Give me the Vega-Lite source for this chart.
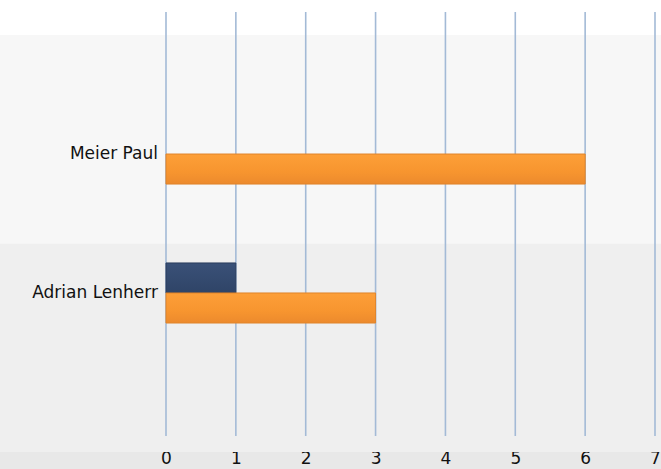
{
  "$schema": "https://vega.github.io/schema/vega-lite/v6.json",
  "width": 661,
  "height": 452,
  "padding": {"left": 0, "top": 0, "right": 0, "bottom": 17},
  "autosize": "none",
  "background": "#e8e8e8",
  "config": {"view": {"fill": "white", "stroke": null}},
  "datasets": {
    "bars": [
      {"name": "Meier Paul", "series": "A", "value": 0},
      {"name": "Meier Paul", "series": "B", "value": 6},
      {"name": "Adrian Lenherr", "series": "A", "value": 1},
      {"name": "Adrian Lenherr", "series": "B", "value": 3}
    ],
    "names": [
      {"name": "Meier Paul"},
      {"name": "Adrian Lenherr"}
    ],
    "ticks": [
      {"t": 0}, {"t": 1}, {"t": 2}, {"t": 3}, {"t": 4}, {"t": 5}, {"t": 6}, {"t": 7}
    ]
  },
  "layer": [
    {
      "data": {"name": "names"},
      "mark": {"type": "rect"},
      "encoding": {
        "y": {"field": "name", "type": "nominal", "axis": null,
              "scale": {"domain": ["Meier Paul", "Adrian Lenherr"], "range": [35, 452], "paddingInner": 0, "paddingOuter": 0}},
        "fill": {"condition": {"test": "datum.name === 'Meier Paul'", "value": "#f7f7f7"}, "value": "#efefef"}
      }
    },
    {
      "data": {"name": "ticks"},
      "mark": {"type": "rule", "color": "#a3bad6", "strokeWidth": 1.6},
      "encoding": {
        "x": {"field": "t", "type": "quantitative"},
        "y": {"datum": 0, "type": "quantitative", "axis": null, "scale": {"domain": [0, 1], "range": [436, 12]}},
        "y2": {"datum": 1}
      }
    },
    {
      "data": {"name": "bars"},
      "layer": [
        {
          "transform": [{"filter": "datum.series === 'A' && datum.value > 0"}],
          "mark": {"type": "bar", "strokeWidth": 1, "stroke": "#2a3c5c",
                   "fill": {"gradient": "linear", "x1": 0, "y1": 0, "x2": 0, "y2": 1,
                            "stops": [{"offset": 0, "color": "#3a5178"}, {"offset": 1, "color": "#2f4467"}]}},
          "encoding": {
            "x": {"field": "value", "type": "quantitative", "stack": null,
                  "scale": {"domain": [0, 7], "range": [166, 655], "nice": false},
                  "axis": {"values": [0, 1, 2, 3, 4, 5, 6, 7], "format": "d", "title": null, "grid": false,
                           "domain": false, "ticks": false, "tickSize": 0, "labelPadding": 6,
                           "labelBaseline": "middle", "labelFont": "DejaVu Sans", "labelFontSize": 17,
                           "labelColor": "#111111", "labelFlush": false}},
            "y": {"field": "name", "type": "nominal", "axis": null,
                  "scale": {"domain": ["Meier Paul", "Adrian Lenherr"], "range": [124, 323], "paddingInner": 0.568, "paddingOuter": 0}},
            "yOffset": {"field": "series", "type": "nominal", "scale": {"domain": ["A", "B"], "paddingInner": 0, "paddingOuter": 0}}
          }
        },
        {
          "transform": [{"filter": "datum.series === 'B'"}],
          "mark": {"type": "bar", "strokeWidth": 1, "stroke": "#e0842a",
                   "fill": {"gradient": "linear", "x1": 0, "y1": 0, "x2": 0, "y2": 1,
                            "stops": [{"offset": 0, "color": "#fd9f38"}, {"offset": 0.6, "color": "#f7952f"}, {"offset": 1, "color": "#ec8a2d"}]}},
          "encoding": {
            "x": {"field": "value", "type": "quantitative", "stack": null},
            "y": {"field": "name", "type": "nominal", "axis": null},
            "yOffset": {"field": "series", "type": "nominal"}
          }
        },
        {
          "data": {"name": "names"},
          "mark": {"type": "text", "align": "right", "baseline": "middle", "dx": -8, "font": "DejaVu Sans", "fontSize": 17, "color": "#111111"},
          "encoding": {
            "x": {"datum": 0, "type": "quantitative"},
            "y": {"field": "name", "type": "nominal", "axis": null},
            "text": {"field": "name"}
          }
        }
      ]
    }
  ],
  "resolve": {"scale": {"y": "independent"}}
}
